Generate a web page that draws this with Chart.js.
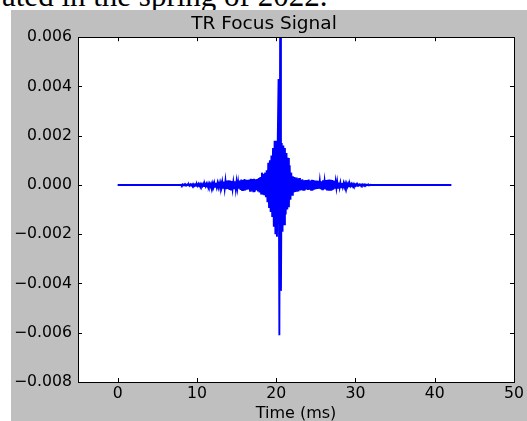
<!DOCTYPE html>
<html><head><meta charset="utf-8">
<script src="https://cdn.jsdelivr.net/npm/chart.js@4/dist/chart.umd.min.js"></script>
<style>
html,body{margin:0;padding:0;background:#fff;width:527px;height:421px;overflow:hidden;position:relative;}
#doc{position:absolute;left:2px;top:-20px;font-family:"Liberation Serif","Times New Roman",serif;font-size:31px;line-height:31px;color:#000;white-space:nowrap;}
#panel{position:absolute;left:11px;top:10px;width:516px;height:411px;background:#bfbfbf;}
canvas{display:block}
</style></head><body>
<div id="doc">ated in the spring of 2022.</div>
<div id="panel"><canvas id="c" width="516" height="411"></canvas></div>
<script>
const chartTitle = 'TR Focus Signal';
const xAxisLabel = 'Time (ms)';
const xTickValues = [0, 10, 20, 30, 40, 50];
const yTickValues = [-0.008, -0.006, -0.004, -0.002, 0, 0.002, 0.004, 0.006];
const xRange = [-5, 50];
const yRange = [-0.008, 0.006];

// quiet (flat) parts of the recording
const quietStartTimes = [0.0, 7.9];
const quietStartValues = [0, 0];
const quietEndTimes = [32.0, 42.1];
const quietEndValues = [0, 0];

// recorded samples, one every 0.1 ms starting at 8.0 ms
const burstStartMs = 8.0;
const burstStepMs = 0.1;
const burstValues = [
  0.00001,-0.00002,0.00002,-0.00001,0.00002,-0.00002,0.00001,-0.00002,0.00002,-0.00001,
  0.00002,-0.00003,0.00002,-0.00002,0.00003,-0.00002,0.00003,-0.00003,0.00002,-0.00003,
  0.00003,-0.00004,0.00004,-0.00003,0.00004,-0.00004,0.00003,-0.00004,0.00005,-0.00004,
  0.00004,-0.00005,0.00005,-0.00004,0.00006,-0.00005,0.00005,-0.00006,0.00005,-0.00006,
  0.00007,-0.00008,0.00008,-0.00007,0.00009,-0.00008,0.00008,-0.00009,0.00007,-0.00008,
  0.00008,-0.0001,0.00012,-0.00011,0.00014,-0.00015,0.00016,-0.00017,0.00018,-0.00016,
  0.00019,-0.0002,0.00018,-0.00019,0.00016,-0.00015,0.00012,-0.00014,0.00015,-0.00017,
  0.00013,-0.00014,0.00012,-0.00015,0.00018,-0.0002,0.00022,-0.00021,0.0002,-0.00023,
  0.00024,-0.00022,0.00021,-0.00019,0.0002,-0.00018,0.00022,-0.00024,0.00025,-0.00023,
  0.00024,-0.00026,0.00025,-0.00027,0.00023,-0.00021,0.00024,-0.00026,0.00028,-0.0003,
  0.00032,-0.00035,0.0005,-0.0004,0.00045,-0.00042,0.0005,-0.0005,0.0006,-0.0007,
  0.0009,-0.0009,0.001,-0.0011,0.0012,-0.0013,0.0015,-0.0017,0.0018,-0.002,
  0.0018,-0.0021,0.0019,0.0043,-0.0061,0.0065,-0.0043,0.0017,-0.0019,0.0016,
  -0.0016,0.0015,-0.0012,0.0013,-0.001,0.0011,-0.0009,0.0008,-0.0006,0.0005,
  -0.0004,0.00035,-0.0003,0.00032,-0.00028,0.0003,-0.00027,0.00025,-0.00026,0.00028,
  -0.00022,0.0002,-0.00021,0.00023,-0.0002,0.00019,-0.00022,0.0002,-0.00018,0.0002,
  -0.0002,0.00022,-0.00019,0.00018,-0.0002,0.00021,-0.00022,0.0002,-0.00019,0.00018,
  -0.00017,0.00018,-0.00016,0.00017,-0.00015,0.00016,-0.00017,0.00015,-0.00018,0.00019,
  -0.00016,0.00015,-0.00018,0.0002,-0.00022,0.00021,-0.00023,0.00022,-0.0002,0.00021,
  -0.00022,0.0002,-0.00019,0.00017,-0.00015,0.00014,-0.00012,0.00013,-0.00011,0.0001,
  -0.0001,0.00009,-0.00009,0.00008,-0.00008,0.00007,-0.00007,0.00007,-0.00006,0.00006,
  -0.00006,0.00005,-0.00005,0.00005,-0.00004,0.00004,-0.00004,0.00004,-0.00003,0.00003,
  -0.00003,0.00003,-0.00003,0.00002,-0.00002,0.00002,-0.00002,0.00002,-0.00002,0.00002,
  -0.00002,0.00002,-0.00001,0.00002,-0.00001,0.00001,-0.00001,0.00001,-0.00001,0.00001
];

const points = [];
quietStartTimes.forEach((t, i) => points.push({x: t, y: quietStartValues[i]}));
burstValues.forEach((v, i) => points.push({x: +(burstStartMs + i * burstStepMs).toFixed(2), y: v}));
quietEndTimes.forEach((t, i) => points.push({x: t, y: quietEndValues[i]}));

Chart.defaults.font.family = '"DejaVu Sans", sans-serif';
Chart.defaults.color = '#000';

const plotBg = {
  id: 'plotBg',
  beforeDraw(chart) {
    const {ctx, chartArea: a} = chart;
    ctx.save();
    ctx.fillStyle = '#fff';
    ctx.fillRect(a.left, a.top, a.right - a.left, a.bottom - a.top);
    ctx.restore();
  }
};
const frameTicks = {
  id: 'frameTicks',
  afterDatasetsDraw(chart) {
    const {ctx, chartArea: a, scales: {x, y}} = chart;
    ctx.save();
    ctx.strokeStyle = '#000';
    ctx.lineWidth = 1;
    ctx.beginPath();
    xTickValues.forEach(v => {
      const px = Math.round(x.getPixelForValue(v)) + 0.5;
      ctx.moveTo(px, a.bottom); ctx.lineTo(px, a.bottom - 4);
      ctx.moveTo(px, a.top); ctx.lineTo(px, a.top + 4);
    });
    yTickValues.forEach(v => {
      const py = Math.round(y.getPixelForValue(v)) + 0.5;
      ctx.moveTo(a.left, py); ctx.lineTo(a.left + 4, py);
      ctx.moveTo(a.right, py); ctx.lineTo(a.right - 4, py);
    });
    ctx.stroke();
    ctx.strokeRect(Math.round(a.left) + 0.5, Math.round(a.top) + 0.5,
                   Math.round(a.right - a.left), Math.round(a.bottom - a.top));
    ctx.restore();
  }
};

const fmtY = v => {
  if (Math.abs(v) < 1e-12) v = 0;
  return v.toFixed(3).replace('-', '\u2212');
};

new Chart(document.getElementById('c'), {
  type: 'line',
  data: {
    datasets: [{
      data: points,
      borderColor: '#0000ff',
      borderWidth: 1.9,
      pointRadius: 0,
      tension: 0,
      fill: false
    }]
  },
  options: {
    responsive: false,
    animation: false,
    layout: {padding: {left: 0, right: 10, top: 0, bottom: 0}},
    plugins: {
      legend: {display: false},
      tooltip: {enabled: false},
      title: {
        display: true,
        text: chartTitle,
        color: '#000',
        font: {size: 18.5, weight: 'normal', lineHeight: 1.2},
        padding: {top: 3, bottom: 2}
      }
    },
    scales: {
      x: {
        type: 'linear',
        min: xRange[0], max: xRange[1],
        grid: {display: false, drawTicks: false},
        border: {display: false},
        ticks: {font: {size: 15.7}, padding: 3, maxRotation: 0, autoSkip: false},
        title: {display: true, text: xAxisLabel, font: {size: 16, lineHeight: 1}, padding: {top: 0, bottom: -1}},
        afterBuildTicks: s => { s.ticks = xTickValues.map(v => ({value: v})); },
        afterFit: s => { s.height = 39; }
      },
      y: {
        type: 'linear',
        min: yRange[0], max: yRange[1],
        grid: {display: false, drawTicks: false},
        border: {display: false},
        ticks: {font: {size: 15.7}, padding: 6, callback: fmtY, autoSkip: false},
        afterBuildTicks: s => { s.ticks = yTickValues.map(v => ({value: v})); },
        afterFit: s => { s.width = 67; }
      }
    }
  },
  plugins: [plotBg, frameTicks]
});
</script>
</body></html>
